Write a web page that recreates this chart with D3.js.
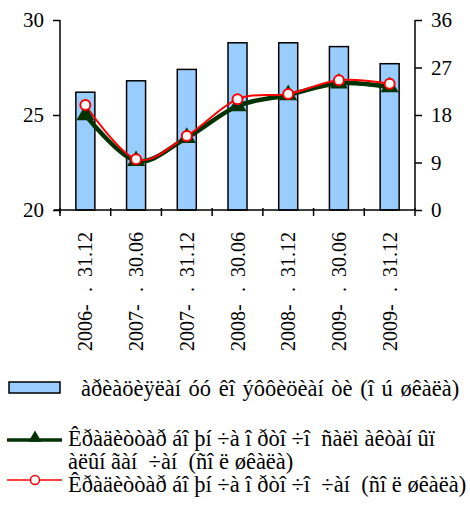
<!DOCTYPE html>
<html>
<head>
<meta charset="utf-8">
<script src="https://cdn.jsdelivr.net/npm/d3@7"></script>
<style>
  body { margin: 0; background: #fff; }
</style>
</head>
<body>
<svg id="chart" width="470" height="509"></svg>
<script>
// chart data
var categories = ["2006-12", "2007-06", "2007-12", "2008-06", "2008-12", "2009-06", "2009-12"];
var yearLabels = ["2006-", "2007-", "2007-", "2008-", "2008-", "2009-", "2009-"];
var dateLabels = [".  31.12", ".  30.06", ".  31.12", ".  30.06", ".  31.12", ".  30.06", ".  31.12"];
var barValues = [26.2, 26.8, 27.4, 28.8, 28.8, 28.6, 27.7];      // left axis
var greenValues = [18.0, 9.3, 13.7, 19.7, 21.8, 24.0, 23.3];     // right axis
var redValues = [19.9, 9.6, 14.0, 21.0, 22.0, 24.6, 23.9];       // right axis
var leftTicks = [20, 25, 30];
var rightTicks = [0, 9, 18, 27, 36];
var legendBar = "àðèàöèÿëàí óó êî ýôôèöèàí òè (î ú øêàëà)";
var legendGreen = ["Êðàäèòòàð áî þí ÷à î ðòî ÷î  ñàëì àêòàí ûï", "àëûí ãàí  ÷àí  (ñî ë øêàëà)"];
var legendRed = "Êðàäèòòàð áî þí ÷à î ðòî ÷î  ÷àí  (ñî ë øêàëà)";

var FONT = "Liberation Serif";
var svg = d3.select("#chart");
var plotL = 60, plotR = 415, plotT = 20, plotB = 210;

var x = d3.scaleBand().domain(categories).range([plotL, plotR])
   .paddingInner(0.625).paddingOuter(0.3125);
var yL = d3.scaleLinear().domain([20, 30]).range([plotB, plotT]);
var yR = d3.scaleLinear().domain([0, 36]).range([plotB, plotT]);

//bars
svg.selectAll("rect.bar")
   .data(barValues)
   .enter()
   .append("rect")
   .attr("class", "bar")
   .attr("x", function(d, i){ return x(categories[i]); })
   .attr("width", x.bandwidth())
   .attr("y", function(d){ return yL(d); })
   .attr("height", function(d){ return yL(20) - yL(d); })
   .attr("fill", "#99ccff")
   .attr("stroke", "#000")
   .attr("stroke-width", 1.5);

//left axis
var gL = svg.append("g").attr("transform", "translate(" + plotL + ",0)")
   .call(d3.axisLeft(yL).tickValues(leftTicks).tickSize(7).tickPadding(9));
//right axis
var gR = svg.append("g").attr("transform", "translate(" + plotR + ",0)")
   .call(d3.axisRight(yR).tickValues(rightTicks).tickSize(7).tickPadding(9));
[gL, gR].forEach(function(g){
   g.attr("font-size", 21);
   g.select(".domain").attr("stroke", "#000").attr("stroke-width", 1.5)
      .attr("d", "M0," + plotT + "V" + (plotB + (g === gL ? 3 : 0)));
   g.selectAll(".tick line").attr("stroke", "#000").attr("stroke-width", 1.5);
});

//x axis line + ticks at band boundaries
svg.append("line").attr("x1", plotL - 6).attr("x2", plotR).attr("y1", plotB).attr("y2", plotB)
   .attr("stroke", "#000").attr("stroke-width", 1.5);
var step = x.step();
svg.selectAll("line.xtick")
   .data(d3.range(categories.length + 1))
   .enter()
   .append("line")
   .attr("x1", function(d){ return plotL + d * step; })
   .attr("x2", function(d){ return plotL + d * step; })
   .attr("y1", plotB - 2)
   .attr("y2", plotB + 6)
   .attr("stroke", "#000").attr("stroke-width", 1.5);

//x labels (rotated)
svg.selectAll("text.xdate")
   .data(dateLabels)
   .enter()
   .append("text")
   .attr("transform", function(d, i){ return "translate(" + (x(categories[i]) + x.bandwidth() / 2) + ",232) rotate(-90)"; })
   .attr("text-anchor", "end")
   .attr("dy", "0.35em")
   .attr("font-size", 20)
   .style("white-space", "pre")
   .text(function(d){ return d; });
svg.selectAll("text.xyear")
   .data(yearLabels)
   .enter()
   .append("text")
   .attr("transform", function(d, i){ return "translate(" + (x(categories[i]) + x.bandwidth() / 2) + ",351) rotate(-90)"; })
   .attr("text-anchor", "start")
   .attr("dy", "0.35em")
   .attr("font-size", 20)
   .text(function(d){ return d; });

//lines
var cx = function(d, i){ return x(categories[i]) + x.bandwidth() / 2; };
var line = d3.line().x(cx).y(function(d){ return yR(d); }).curve(d3.curveCardinal.tension(0));
svg.append("path").attr("d", line(greenValues)).attr("fill", "none")
   .attr("stroke", "#003300").attr("stroke-width", 4.5);
svg.append("path").attr("d", line(redValues)).attr("fill", "none")
   .attr("stroke", "#ff0000").attr("stroke-width", 2);

var tri = d3.symbol().type(d3.symbolTriangle).size(140);
svg.selectAll("path.tri")
   .data(greenValues)
   .enter()
   .append("path")
   .attr("d", tri)
   .attr("transform", function(d, i){ return "translate(" + cx(d, i) + "," + yR(d) + ")"; })
   .attr("fill", "#003300");
svg.selectAll("circle.dot")
   .data(redValues)
   .enter()
   .append("circle")
   .attr("cx", cx)
   .attr("cy", function(d){ return yR(d); })
   .attr("r", 5)
   .attr("fill", "#fff")
   .attr("stroke", "#ff0000")
   .attr("stroke-width", 2);

//legend
var lg = svg.append("g");
lg.append("rect").attr("x", 9).attr("y", 382).attr("width", 51).attr("height", 11)
   .attr("fill", "#99ccff").attr("stroke", "#000").attr("stroke-width", 1.5);
lg.append("text").attr("x", 81).attr("y", 396).style("white-space", "pre")
   .style("word-spacing", "2px").text(legendBar);

lg.append("line").attr("x1", 7).attr("x2", 62).attr("y1", 440).attr("y2", 440)
   .attr("stroke", "#003300").attr("stroke-width", 3.5);
lg.append("path").attr("d", d3.symbol().type(d3.symbolTriangle).size(75))
   .attr("transform", "translate(35,438)").attr("fill", "#003300");
lg.selectAll("text.lgg")
   .data(legendGreen)
   .enter()
   .append("text")
   .attr("x", 68)
   .attr("y", function(d, i){ return 446 + i * 23; })
   .style("white-space", "pre")
   .text(function(d){ return d; });

lg.append("line").attr("x1", 7).attr("x2", 62).attr("y1", 480).attr("y2", 480)
   .attr("stroke", "#ff0000").attr("stroke-width", 1.5);
lg.append("circle").attr("cx", 35).attr("cy", 480).attr("r", 4.5)
   .attr("fill", "#fff").attr("stroke", "#ff0000").attr("stroke-width", 1.5);
lg.append("text").attr("x", 68).attr("y", 492)
   .style("white-space", "pre").text(legendRed);
lg.selectAll("text").attr("font-size", 22.5);

//all text in serif
svg.selectAll("text").style("font-family", FONT).attr("fill", "#000");
</script>
</body>
</html>
